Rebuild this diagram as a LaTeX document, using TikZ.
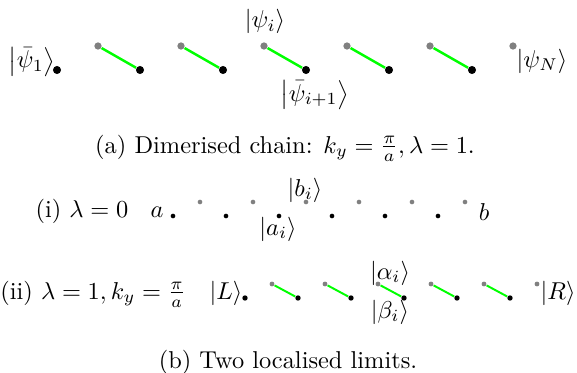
\documentclass[tikz,border=0pt]{standalone}
\usepackage{amsmath,amssymb}
\usepackage{xcolor}
\usepackage{tikz}

\begin{document}
\begin{tikzpicture}[x=0.41pt,y=-0.41pt,
  site/.style={circle,fill=black,inner sep=0pt,minimum size=3.3pt},
  ghost/.style={site,fill=gray,minimum size=3pt},
  smallsite/.style={site,minimum size=1.9pt},
  smallghost/.style={ghost,minimum size=1.9pt},
  midsite/.style={site,minimum size=2.2pt},
  midghost/.style={ghost,minimum size=2pt},
  bond/.style={green,line width=1pt},
  thinbond/.style={green,line width=0.8pt},
  lbl/.style={anchor=base,inner sep=0pt}]
 \useasboundingbox (0,0) rectangle (577,373);
 % (a) dimerised chain
 \node[site] (c1) at (57,70) {};
 \node[site] (c2) at (140,70) {};
 \node[site] (c3) at (223,70) {};
 \node[site] (c4) at (306,70) {};
 \node[site] (c5) at (389,70) {};
 \node[site] (c6) at (472,70) {};
 \node[ghost] (d1) at (98,46) {};
 \node[ghost] (d2) at (181,46) {};
 \node[ghost] (d3) at (264,46) {};
 \node[ghost] (d4) at (347,46) {};
 \node[ghost] (d5) at (430,46) {};
 \node[ghost] (d6) at (513,46) {};
 \draw[bond] (d1) -- (c2);
 \draw[bond] (d2) -- (c3);
 \draw[bond] (d3) -- (c4);
 \draw[bond] (d4) -- (c5);
 \draw[bond] (d5) -- (c6);
 \node[lbl] (psibarone) at (32,68) {$\left|\bar\psi_1\right\rangle$};
 \node[lbl] (psii) at (265,28) {$|\psi_i\rangle$};
 \node[lbl] (psibarnext) at (315,101) {$\bigl|\bar\psi_{i+1}\bigr\rangle$};
 \node[lbl] (psiN) at (542,67) {$|\psi_N\rangle$};
 \node[lbl] (capa) at (285,153) {(a) Dimerised chain: $k_y=\frac{\pi}{a},\lambda=1$.};
 % (b)(i) lambda = 0
 \node[lbl] (rowi) at (82,217) {(i) $\lambda=0$};
 \node[lbl] (enda) at (157,217) {$a$};
 \node[smallsite] (a1) at (173,216) {};
 \node[smallsite] (a2) at (226,216) {};
 \node[smallsite] (a3) at (279,216) {};
 \node[smallsite] (a4) at (332,216) {};
 \node[smallsite] (a5) at (385,216) {};
 \node[smallsite] (a6) at (438,216) {};
 \node[smallghost] (b1) at (200,202) {};
 \node[smallghost] (b2) at (253,202) {};
 \node[smallghost] (b3) at (306,202) {};
 \node[smallghost] (b4) at (359,202) {};
 \node[smallghost] (b5) at (412,202) {};
 \node[smallghost] (b6) at (465,202) {};
 \node[lbl] (bi) at (305,196) {$|b_i\rangle$};
 \node[lbl] (ai) at (278,235) {$|a_i\rangle$};
 \node[lbl] (endb) at (484,220) {$b$};
 % (b)(ii) lambda = 1
 \node[lbl] (rowii) at (93,299) {(ii) $\lambda=1,k_y=\frac{\pi}{a}$};
 \node[lbl] (Lket) at (226,299) {$|L\rangle$};
 \node[midsite] (be1) at (245,298) {};
 \node[midsite] (be2) at (298,298) {};
 \node[midsite] (be3) at (351,298) {};
 \node[midsite] (be4) at (404,298) {};
 \node[midsite] (be5) at (457,298) {};
 \node[midsite] (be6) at (510,298) {};
 \node[midghost] (al1) at (272,284) {};
 \node[midghost] (al2) at (325,284) {};
 \node[midghost] (al3) at (378,284) {};
 \node[midghost] (al4) at (431,284) {};
 \node[midghost] (al5) at (484,284) {};
 \node[midghost] (al6) at (537,284) {};
 \draw[thinbond] (al1) -- (be2);
 \draw[thinbond] (al2) -- (be3);
 \draw[thinbond] (al3) -- (be4);
 \draw[thinbond] (al4) -- (be5);
 \draw[thinbond] (al5) -- (be6);
 \node[lbl] (alphai) at (390,279) {$|\alpha_i\rangle$};
 \node[lbl] (betai) at (390,318) {$|\beta_i\rangle$};
 \node[lbl] (Rket) at (558,299) {$|R\rangle$};
 \node[lbl] (capb) at (288,368) {(b) Two localised limits.};
\end{tikzpicture}
\end{document}
